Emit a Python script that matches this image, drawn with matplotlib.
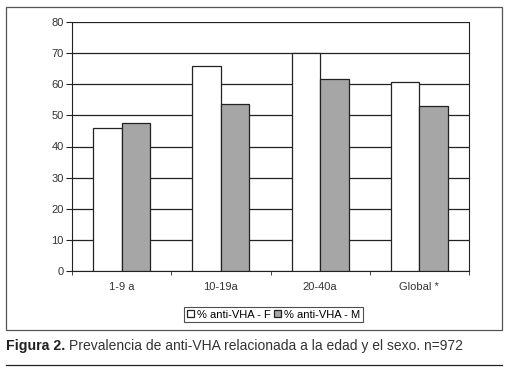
import matplotlib
matplotlib.use("Agg")
import matplotlib.pyplot as plt
from matplotlib.patches import Rectangle
from matplotlib.lines import Line2D
import numpy as np

categories = ["1-9 a", "10-19a", "20-40a", "Global *"]
female = [46.0, 65.8, 70.0, 60.8]
male = [47.5, 53.8, 61.6, 53.0]
series_labels = ["% anti-VHA - F", "% anti-VHA - M"]

plt.rcParams['font.family'] = ['Liberation Sans', 'DejaVu Sans']

W, H = 521, 370
fig = plt.figure(figsize=(W/100, H/100), dpi=100)

def fx(px): return px / W
def fy(py): return 1 - py / H

# outer frame
fig.patches.append(Rectangle((fx(6), fy(330)), fx(502) - fx(6), fy(7) - fy(330),
                             transform=fig.transFigure, fill=False, edgecolor='#555555', lw=0.9))

ax = fig.add_axes([fx(72), fy(271), fx(469) - fx(72), fy(22) - fy(271)])
x = np.arange(len(categories))
bw = 0.2875
ax.bar(x - bw/2, female, bw, color='white', edgecolor='#222222', lw=0.9, label=series_labels[0], zorder=3)
ax.bar(x + bw/2, male, bw, color='#a6a6a6', edgecolor='#222222', lw=0.9, label=series_labels[1], zorder=3)
ax.set_xlim(-0.5, len(categories) - 0.5)
ax.set_ylim(0, 80)
ax.set_yticks(range(0, 81, 10))
ax.yaxis.grid(True, color='#222222', lw=0.9, zorder=0)
ax.set_axisbelow(True)
ax.set_xticks(x)
ax.set_xticklabels(categories)
ax.set_xticks(np.arange(-0.5, len(categories)), minor=True)
ax.tick_params(axis='x', which='major', length=0, pad=8, labelsize=8, colors='#333333')
ax.tick_params(axis='x', which='minor', length=3, direction='out', color='#222222')
ax.tick_params(axis='y', length=4, direction='out', labelsize=8, colors='#333333', color='#222222', pad=2)
ax.spines['top'].set_visible(False)
for s in ['right', 'left', 'bottom']:
    ax.spines[s].set_color('#222222')

leg = fig.legend(loc='center', bbox_to_anchor=(fx(273.5), fy(314.5)), ncol=2, fontsize=8,
                 frameon=True, fancybox=False, edgecolor='#222222', handlelength=0.6,
                 handleheight=0.6, handletextpad=0.3, columnspacing=0.3, borderpad=0.25,
                 borderaxespad=0)
leg.get_frame().set_linewidth(0.8)

t1 = fig.text(fx(6), fy(346), "Figura 2.", fontsize=10.2, fontweight='bold', va='center', ha='left', color='#222222')
renderer = fig.canvas.get_renderer()
bb = t1.get_window_extent(renderer)
fig.text(fx(bb.x1 + 4), fy(346), "Prevalencia de anti-VHA relacionada a la edad y el sexo. n=972",
         fontsize=10, va='center', ha='left', color='#333333')
fig.add_artist(Line2D([fx(6), fx(502)], [fy(365), fy(365)], transform=fig.transFigure,
                      color='#222222', lw=0.9))

fig.savefig("out.png", dpi=100)
